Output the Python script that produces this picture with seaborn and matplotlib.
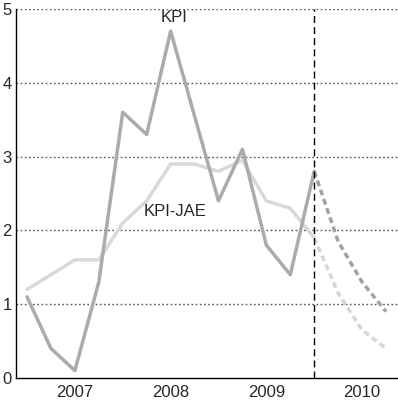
import numpy as np
import pandas as pd
import matplotlib
matplotlib.use("Agg")
import matplotlib.pyplot as plt
import seaborn as sns

# quarterly data, index 0 = 2006Q4 ... 12 = 2009Q4, 15 = 2010Q3
quarter = list(range(13))
kpi = [1.1, 0.4, 0.1, 1.3, 3.6, 3.3, 4.7, 3.55, 2.4, 3.1, 1.8, 1.4, 2.8]
kpi_jae = [1.2, 1.4, 1.6, 1.6, 2.1, 2.4, 2.9, 2.9, 2.8, 2.95, 2.4, 2.3, 1.9]

fc_quarter = [12, 13, 14, 15]
kpi_fc = [2.8, 1.85, 1.3, 0.9]
kpi_jae_fc = [1.9, 1.15, 0.65, 0.4]

years = ["2007", "2008", "2009", "2010"]
year_pos = [2, 6, 10, 14]

sns.set_style("white")
plt.rcParams["font.family"] = ["Liberation Sans", "DejaVu Sans"]

hist = pd.DataFrame({"q": quarter * 2,
                     "v": kpi + kpi_jae,
                     "s": ["KPI"] * 13 + ["KPI-JAE"] * 13})
fc = pd.DataFrame({"q": fc_quarter * 2,
                   "v": kpi_fc + kpi_jae_fc,
                   "s": ["KPI"] * 4 + ["KPI-JAE"] * 4})

fig = plt.figure(figsize=(3.98, 4.04), dpi=100)
ax = fig.add_axes([16 / 398, 26 / 404, 382 / 398, 369 / 404])

for y in range(1, 6):
    ax.axhline(y, color="#555555", lw=1, ls=(0, (1.2, 1.8)), zorder=1)

sns.lineplot(data=hist, x="q", y="v", hue="s",
             palette={"KPI": "#ababab", "KPI-JAE": "#d9d9d9"},
             hue_order=["KPI-JAE", "KPI"], lw=2.5, legend=False, ax=ax, zorder=3)
for name, col in [("KPI-JAE", "#d6d6d6"), ("KPI", "#a2a2a2")]:
    sub = fc[fc["s"] == name]
    sns.lineplot(data=sub, x="q", y="v", color=col, lw=2.5,
                 ls=(0, (1.7, 1.1)), legend=False, ax=ax, zorder=3)

ax.axvline(12, color="black", lw=1, ls=(0, (5, 3)), zorder=4)

ax.text(6.15, 4.88, "KPI", ha="center", va="center", fontsize=12)
ax.text(6.2, 2.25, "KPI-JAE", ha="center", va="center", fontsize=12)

ax.set_xlim(-0.46, 15.5)
ax.set_ylim(0, 5)
ax.set_xlabel("")
ax.set_ylabel("")

ax.set_xticks([0, 4, 8, 12])
ax.set_xticks(range(16), minor=True)
ax.set_xticklabels([])
ax.tick_params(axis="x", which="major", direction="in", length=12, width=1, color="black")
ax.tick_params(axis="x", which="minor", direction="in", length=6, width=1, color="black")
for p, lab in zip(year_pos, years):
    ax.text(p, -0.038, lab, transform=ax.get_xaxis_transform(), ha="center", va="center", fontsize=12)

ax.set_yticks(range(6))
ax.set_yticklabels([str(i) for i in range(6)], fontsize=12)
ax.tick_params(axis="y", length=0, pad=3)

for side in ["top", "right"]:
    ax.spines[side].set_visible(False)
for side in ["left", "bottom"]:
    ax.spines[side].set_color("black")
    ax.spines[side].set_linewidth(1)

fig.savefig("out.png", dpi=100)
